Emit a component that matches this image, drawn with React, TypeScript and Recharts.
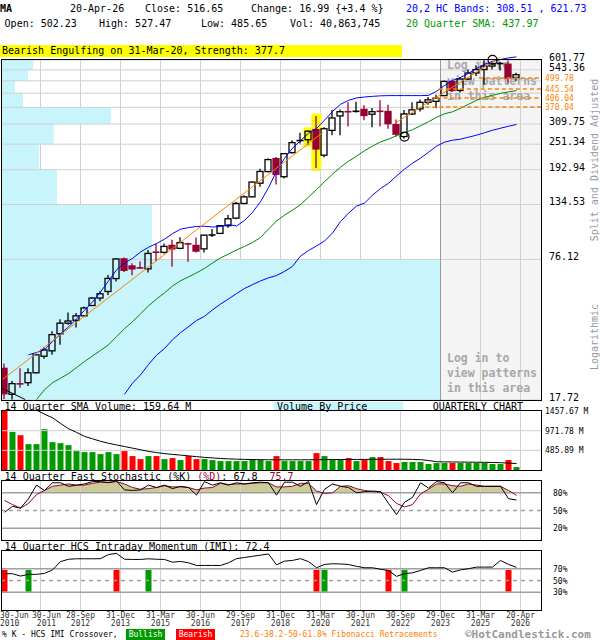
import React from 'react'
import {
  ComposedChart,
  XAxis,
  YAxis,
  Bar,
  Line,
  Area,
  Scatter,
  ReferenceLine,
  ReferenceArea,
  Cell,
} from 'recharts'

const FONT = "'DejaVu Sans Mono', 'Liberation Mono', monospace"

// quarterly candles 30-Jun-2010 .. 20-Apr-2026 (split & dividend adjusted)
const opens = [24.6, 18.8, 21.0, 21.2, 23.5, 27.9, 29.5, 35.2, 39.3, 40.5, 42.4, 47.2, 51.0, 54.6, 62.4, 76.5, 71.1, 70.4, 69.0, 82.2, 81.9, 88.0, 85.4, 89.6, 88.0, 84.9, 97.1, 99.7, 108, 116.8, 136, 145.6, 167.8, 189.2, 216.5, 179.4, 230.3, 259, 263.2, 292.6, 224.3, 290, 337, 353, 350, 360.5, 343, 355, 353, 308, 272, 344, 362.6, 388, 392, 416, 482, 439, 494, 526, 545, 565, 578, 576, 502.23]
const highs = [25.9, 21.6, 24.6, 24.6, 28.5, 30.6, 36.1, 40.9, 43.9, 43.7, 46.7, 51.5, 54.7, 64.8, 76.8, 77.6, 73.1, 74.4, 83.9, 89.5, 89.8, 93.3, 95.8, 90.5, 95.6, 98.2, 104.3, 108.2, 120.5, 138.5, 148.2, 170.9, 195, 216.5, 220.4, 229.5, 262, 283, 290, 337, 300, 358, 360, 388, 390, 376, 366, 396, 378, 325, 358, 388, 400, 410, 420, 487, 487, 505, 545, 570, 600, 595, 590, 598, 527.47]
const lows = [17.9, 17.8, 20.1, 20.5, 23.3, 27.2, 28.3, 31.4, 38.7, 37.6, 42.1, 47.0, 49.3, 52.7, 60.6, 66.8, 64.6, 68.9, 66.5, 74.9, 81.0, 70.6, 84.5, 74.3, 81.8, 81.8, 96.1, 99.5, 105.7, 115.5, 135, 145, 161.8, 188.1, 165.3, 176.3, 228, 253, 250, 196.4, 219.5, 276, 276, 302, 349, 322, 300, 302, 295, 272.5, 267, 340, 353, 378, 365, 414, 432, 430, 489, 510, 465, 545, 540, 470, 485.65]
const closes = [18.9, 21.0, 20.9, 23.5, 28.3, 29.8, 34.9, 39.3, 40.2, 42.4, 46.0, 51.0, 53.3, 62.5, 76.5, 68.0, 69.0, 69.0, 81.0, 81.8, 87.1, 84.9, 90.6, 89.2, 83.0, 97.9, 99.0, 108.0, 116, 136, 145.6, 169.7, 189.4, 214.3, 184.0, 227.9, 255.5, 263, 287.6, 239.3, 295, 330, 352, 351, 357, 338.5, 352, 352, 311, 279, 344, 358.8, 388, 398, 405, 482, 439, 494, 526, 545, 565, 580, 582, 499.66, 516.65]

// 20,2 HC bands and 20 quarter SMA
const upperBand = [null, null, null, 28.3, 29.0, 29.8, 32.5, 35.2, 37.8, 41.1, 44.9, 49.0, 54.3, 60.9, 68.3, 73.3, 76.9, 82.2, 86.3, 89.8, 93.9, 99.5, 104.1, 105.9, 107.1, 107.4, 106.5, 107.1, 109.3, 107.6, 114, 124, 138.5, 160, 190, 217, 241, 260.7, 281.6, 296, 322, 353, 380, 396, 406, 410, 412.8, 415, 416, 416, 416, 416, 416, 417, 435, 462, 487, 502, 523.6, 551, 575, 593, 605, 615, 621.73]
const lowerBand = [null, null, null, null, null, null, null, null, null, null, null, null, null, null, null, 18.8, 21.1, 23.0, 25.6, 28.2, 30.2, 33.1, 35.6, 37.9, 40.4, 42.2, 45.1, 47.9, 50.5, 53.4, 56.3, 58.6, 60.9, 62.9, 64.4, 67.2, 70.8, 78.8, 83.5, 87.5, 92.1, 100.1, 112.6, 123, 132.3, 136.5, 148.2, 158.7, 167.6, 180.8, 194, 206.6, 217.3, 231.3, 246.3, 256.7, 262, 264.8, 270.3, 276, 283, 290.6, 296.6, 302.8, 308.51]
const sma20 = [null, null, null, null, 17.8, 19.7, 21.2, 22.2, 23.3, 24.8, 26.4, 28.0, 29.6, 31.4, 34.2, 37.1, 39.9, 43.3, 47.0, 50.5, 53.8, 57.8, 61.0, 63.5, 66.2, 69.3, 73.4, 77.3, 80.5, 83.9, 87.1, 90.7, 95.5, 104.3, 113.3, 120.5, 126.9, 134.3, 145.2, 156.9, 170.5, 184.2, 198, 210.7, 221.9, 235, 246.3, 257.5, 264.8, 274.5, 283.1, 292.1, 304.4, 317.2, 332.3, 344.5, 351.7, 364.7, 380.1, 396.1, 408.6, 417, 425.8, 432.3, 437.97]

// volume (millions) and its 14 quarter SMA
const volumes = [1457, 942, 860, 639, 639, 1008, 688, 663, 614, 467, 442, 442, 393, 442, 393, 467, 344, 270, 344, 344, 270, 295, 246, 344, 270, 270, 246, 221, 221, 221, 221, 270, 246, 221, 344, 221, 221, 221, 221, 418, 344, 246, 246, 295, 221, 246, 319, 319, 221, 172, 197, 197, 197, 147, 172, 172, 172, 172, 172, 172, 172, 147, 147, 246, 73]
const volumeSma = [2100, 1950, 1800, 1640, 1480, 1380, 1290, 1150, 1020, 930, 830, 770, 710, 660, 620, 580, 540, 500, 460, 430, 405, 385, 368, 350, 330, 312, 298, 285, 275, 268, 262, 258, 255, 253, 252, 252, 252, 252, 253, 255, 257, 258, 259, 260, 261, 262, 263, 265, 266, 266, 266, 262, 255, 235, 205, 200, 198, 196, 194, 192, 190, 186, 180, 170, 159.64]

// 14 quarter fast stochastic
const stochK = [47, 57, 54, 70, 93, 84, 97, 97, 91, 93, 95, 99, 99, 97, 100, 85, 84, 85, 93, 89, 93, 87, 91, 89, 76, 99, 93, 97, 93, 97, 95, 97, 98, 97, 76, 98, 98, 91, 99, 60, 86, 95, 91, 89, 80, 82, 83, 82, 62, 43, 64, 72, 97, 88, 99, 97, 80, 97, 97, 91, 91, 91, 91, 70, 67.8]
const stochD = [67, 60, 54, 62, 77, 84, 91, 93, 95, 93, 93, 96, 98, 98, 99, 95, 89, 86, 87, 89, 92, 90, 90, 89, 85, 88, 89, 96, 94, 95, 95, 96, 97, 97, 90, 90, 91, 96, 96, 83, 79, 80, 91, 92, 87, 84, 82, 81, 75, 62, 56, 60, 78, 86, 95, 95, 92, 91, 95, 93, 91, 91, 91, 84, 75.7]

// 14 quarter HCS intraday momentum and %K / IMI crossovers
const imi = [61.5, 61.5, 57.5, 60.4, 60.4, 62, 68, 82, 86, 86.8, 86.8, 86.8, 87, 94, 96, 86, 85.7, 85.7, 86.8, 86, 85.7, 81, 82.3, 80, 75.5, 75.5, 75.5, 75.5, 80, 87, 89, 91, 93, 95, 76.6, 82.8, 84, 87, 82, 71.6, 77.2, 78.4, 78, 77.2, 74, 71.6, 71.6, 69, 67.1, 57, 61.5, 63, 67, 71.6, 71.6, 71.6, 64.3, 68, 70, 72.7, 72.7, 72.7, 84, 77.2, 72.4]
const crossIdx = [0, 3, 14, 18, 39, 40, 48, 50, 63]
const crossBullish = [false, true, false, true, false, true, false, true, false]
const crossBand = [31, 68]

// price grid, labels, fibonacci levels, volume-by-price
const gridLevels = [17.72, 76.12, 134.53, 192.94, 251.34, 309.75, 368.16, 426.56, 484.97, 543.37, 601.77]
const priceLabels = [17.72, 76.12, 134.53, 192.94, 251.34, 309.75, 543.36, 601.77]
const fibLevels = [370.04, 406.04, 445.54, 499.78]
const fibStart = [52.6, 54, 54.3, 59.3]
const vbpShare = [81.3, 27.8, 10.2, 6.9, 9.6, 20.2, 3.9, 2.4, 4.8, 5.8] // % of width, bottom band first
const trendLines = [
  [{ x: -0.2, y: 22 }, { x: 39.8, y: 284 }],
  [{ x: 48.8, y: 312 }, { x: 61.9, y: 618 }],
]
const patternMarks = [{ i: 38, lo: 244, hi: 299 }, { i: 39, lo: 190.6, hi: 345 }]
const circles = [{ i: 50, v: 272 }, { i: 61, v: 602 }]
const volTicks = [485.89, 971.78, 1457.67]

const gridX = [4.5, 9.5, 14.5, 19.5, 24.5, 29.5, 34.5, 39.5, 44.5, 49.5, 54.5, 59.5, 64.5]
const labelX = [0, ...gridX]
const xLabels = [
  ['30-Jun', '2010'], ['30-Jun', '2011'], ['28-Sep', '2012'], ['31-Dec', '2013'], ['31-Mar', '2015'],
  ['30-Jun', '2016'], ['29-Sep', '2017'], ['31-Dec', '2018'], ['31-Mar', '2020'], ['30-Jun', '2021'],
  ['30-Sep', '2022'], ['29-Dec', '2023'], ['31-Mar', '2025'], ['20-Apr', '2026'],
]

const X_DOMAIN: [number, number] = [-0.3125, 67.0625]
const PRICE_DOMAIN: [number, number] = [17.72, 667.5]
const GRID = '#d0d0d0'
const MAROON = '#990033'

// volume-by-price share of the plot width, expressed on the quarter axis
const shareToX = (s: number) => X_DOMAIN[0] + (s / 100) * (X_DOMAIN[1] - X_DOMAIN[0])

function Candle(props: any) {
  const { x, y, width, height, payload } = props
  if (!payload || !Number.isFinite(y) || !Number.isFinite(height)) return null
  const { o, h, l, c } = payload
  const lnH = Math.log(h)
  const span = lnH - Math.log(l)
  const at = (p: number) => y + (height * (lnH - Math.log(p))) / span
  const cx = x + width / 2
  const bear = c < o
  const color = bear ? MAROON : '#000'
  const top = at(Math.max(o, c))
  const bot = at(Math.min(o, c))
  if (bot - top < 2) {
    const mid = (top + bot) / 2
    return (
      <g>
        <line x1={cx} x2={cx} y1={y} y2={y + height} stroke={color} strokeWidth={1.3} />
        <line x1={cx - 3.5} x2={cx + 3.5} y1={mid} y2={mid} stroke={color} strokeWidth={1.6} />
      </g>
    )
  }
  return (
    <g>
      <line x1={cx} x2={cx} y1={y} y2={top} stroke={color} strokeWidth={1.3} />
      <line x1={cx} x2={cx} y1={bot} y2={y + height} stroke={color} strokeWidth={1.3} />
      <rect x={cx - 3} y={top} width={6} height={bot - top} fill={bear ? color : 'none'} stroke={color} strokeWidth={1.3} />
    </g>
  )
}

const PriceTick = (props: any) => {
  const { x, y, payload } = props
  const v = payload.value
  if (fibLevels.includes(v)) {
    return <text x={x - 4} y={y + 3} fontSize={8} fill="#ff8000" fontFamily={FONT}>{v.toFixed(2)}</text>
  }
  return <text x={x} y={y + 1} fontSize={10} fill="#000" fontFamily={FONT}>{v.toFixed(2)}</text>
}

const SmallTick = (suffix: string, digits: number) => (props: any) => {
  const { x, y, payload } = props
  return (
    <text x={x} y={y + 3} fontSize={8} fill="#000" fontFamily={FONT}>
      {payload.value.toFixed(digits) + suffix}
    </text>
  )
}

const XTick = (props: any) => {
  const { x, y, payload } = props
  const k = labelX.indexOf(payload.value)
  if (k < 0) return null
  const first = k === 0
  // the 2011 label is nudged right so it clears the 2010 one
  const tx = first ? x - 4.5 : k === 1 ? x + 6 : x
  return (
    <text x={tx} y={y} textAnchor={first ? 'start' : 'middle'} fontSize={8} fill="#333" fontFamily={FONT}>
      <tspan x={tx} dy={0}>{xLabels[k][0]}</tspan>
      <tspan x={tx} dy={8}>{xLabels[k][1]}</tspan>
    </text>
  )
}

const Txt = ({ x, y, size = 10, color = '#000', bold = false, children }: any) => (
  <div
    style={{
      position: 'absolute', left: x, top: y - 6, fontFamily: FONT, fontSize: size,
      lineHeight: '12px', color, fontWeight: bold ? 'bold' : 'normal', whiteSpace: 'pre',
    }}
  >
    {children}
  </div>
)

const Frame = ({ top, height }: any) => (
  <div
    style={{
      position: 'absolute', left: 1, top, width: 541, height, boxSizing: 'border-box',
      border: '1px solid #000', pointerEvents: 'none',
    }}
  />
)

const Layer = ({ top, children }: any) => (
  <div style={{ position: 'absolute', left: 0, top }}>{children}</div>
)

export default function App() {
  const rows = opens.map((o, i) => {
    const k = crossIdx.indexOf(i)
    return {
      i,
      o,
      h: highs[i],
      l: lows[i],
      c: closes[i],
      range: [lows[i], highs[i]],
      ub: upperBand[i],
      lb: lowerBand[i],
      sma: sma20[i],
      vol: volumes[i],
      volSma: volumeSma[i],
      k: stochK[i],
      d: stochD[i],
      zone: [80, Math.max(80, stochD[i])],
      imi: imi[i],
      cross: k >= 0 ? crossBand : null,
      bull: k >= 0 ? crossBullish[k] : false,
    }
  })

  const priceMarginBg = { top: 50, right: 59, bottom: 2, left: 2 }
  const priceMarginFg = { top: 50, right: 0, bottom: 2, left: 2 }

  return (
    <div style={{ position: 'absolute', left: 0, top: 0, width: 600, height: 640, background: '#fff', overflow: 'hidden' }}>
      {/* header */}
      <Txt x={0} y={9} bold>MA</Txt>
      <Txt x={70} y={9}>20-Apr-26</Txt>
      <Txt x={145} y={9}>Close: 516.65</Txt>
      <Txt x={251} y={9}>Change: 16.99 {'{+3.4 %}'}</Txt>
      <Txt x={406} y={9} color="#0000ff">20,2 HC Bands: 308.51 , 621.73</Txt>
      <Txt x={4.6} y={24}>Open: 502.23</Txt>
      <Txt x={99} y={24}>High: 527.47</Txt>
      <Txt x={201} y={24}>Low: 485.65</Txt>
      <Txt x={290} y={24}>Vol: 40,863,745</Txt>
      <Txt x={406} y={24} color="#009900">20 Quarter SMA: 437.97</Txt>
      <div style={{ position: 'absolute', left: 0, top: 45, width: 402, height: 12, background: '#ffff00' }} />
      <Txt x={2} y={51}>Bearish Engulfing on 31-Mar-20, Strength: 377.7</Txt>

      {/* price: background with shaded area and vertical grid */}
      <Layer top={0}>
        <ComposedChart width={600} height={402} data={rows} margin={priceMarginBg}>
          <XAxis type="number" dataKey="i" domain={X_DOMAIN} hide allowDataOverflow />
          <YAxis scale="log" domain={PRICE_DOMAIN} hide allowDataOverflow />
          <ReferenceArea x1={54.5} x2={X_DOMAIN[1]} y1={17.72} y2={601.77} fill="#f4f4f4" fillOpacity={1} stroke="none" />
          {gridX.map((x) => (
            <ReferenceLine key={x} segment={[{ x, y: 17.72 }, { x, y: 601.77 }]} stroke={GRID} strokeWidth={1} />
          ))}
        </ComposedChart>
      </Layer>

      {/* price: volume by price, horizontal grid, pattern marks */}
      <Layer top={0}>
        <ComposedChart width={600} height={402} data={rows} margin={priceMarginBg}>
          <XAxis type="number" dataKey="i" domain={X_DOMAIN} hide allowDataOverflow />
          <YAxis scale="log" domain={PRICE_DOMAIN} hide allowDataOverflow />
          {vbpShare.map((w, k) => (
            <ReferenceArea
              key={k}
              x1={X_DOMAIN[0]}
              x2={shareToX(w)}
              y1={gridLevels[k]}
              y2={gridLevels[k + 1]}
              fill="#c8f4fc"
              fillOpacity={1}
              stroke="none"
            />
          ))}
          {gridLevels.map((v) => (
            <ReferenceLine key={v} y={v} stroke={GRID} strokeWidth={1} />
          ))}
          <ReferenceLine segment={[{ x: 54.5, y: 17.72 }, { x: 54.5, y: 601.77 }]} stroke="#999" strokeWidth={1} />
          {patternMarks.map((p) => (
            <ReferenceArea
              key={p.i}
              x1={p.i - 0.65}
              x2={p.i + 0.6}
              y1={p.lo}
              y2={p.hi}
              fill="#ffff00"
              fillOpacity={1}
              stroke="none"
            />
          ))}
        </ComposedChart>
      </Layer>

      {/* login notes */}
      <div style={{ position: 'absolute', left: 447, top: 58, fontFamily: FONT, fontSize: 11.5, fontWeight: 'bold', color: '#a8a8a8', lineHeight: '15.5px', whiteSpace: 'pre' }}>
        {'Log in to\nview patterns\nin this area'}
      </div>
      <div style={{ position: 'absolute', left: 447, top: 351, fontFamily: FONT, fontSize: 11.5, fontWeight: 'bold', color: '#a8a8a8', lineHeight: '15px', whiteSpace: 'pre' }}>
        {'Log in to\nview patterns\nin this area'}
      </div>

      {/* price: candles and indicator lines */}
      <Layer top={0}>
        <ComposedChart width={600} height={402} data={rows} margin={priceMarginFg}>
          <XAxis type="number" dataKey="i" domain={X_DOMAIN} hide allowDataOverflow />
          <YAxis
            orientation="right"
            width={59}
            scale="log"
            domain={PRICE_DOMAIN}
            allowDataOverflow
            ticks={[...priceLabels, ...fibLevels]}
            interval={0}
            tickLine={false}
            axisLine={false}
            tickSize={6}
            tickMargin={2}
            tick={<PriceTick />}
          />
          <Bar dataKey="range" barSize={7} isAnimationActive={false} shape={(p: any) => <Candle {...p} />} />
          <Line dataKey="sma" stroke="#008800" strokeWidth={1} dot={false} isAnimationActive={false} />
          <Line dataKey="lb" stroke="#0000ff" strokeWidth={1} dot={false} isAnimationActive={false} />
          <Line dataKey="ub" stroke="#0000ff" strokeWidth={1} dot={false} isAnimationActive={false} />
          {trendLines.map((seg, k) => (
            <ReferenceLine key={k} segment={seg} stroke="#ff8000" strokeWidth={1} />
          ))}
          <ReferenceLine segment={[{ x: -0.3, y: 20.0 }, { x: 2.6, y: 17.8 }]} stroke="#000" strokeWidth={1} />
          {fibLevels.map((v, k) => (
            <ReferenceLine
              key={v}
              segment={[{ x: fibStart[k], y: v }, { x: X_DOMAIN[1], y: v }]}
              stroke="#ff8000"
              strokeWidth={1.5}
              strokeDasharray="4 3"
            />
          ))}
          <Scatter
            data={circles}
            dataKey="v"
            isAnimationActive={false}
            shape={(p: any) => <circle cx={p.cx} cy={p.cy} r={4.5} fill="none" stroke="#000" strokeWidth={1.2} />}
          />
        </ComposedChart>
      </Layer>
      <Frame top={59} height={342} />

      <div style={{ position: 'absolute', left: 594, top: 160, transform: 'translate(-50%, -50%) rotate(-90deg)', fontFamily: FONT, fontSize: 10, color: '#999', whiteSpace: 'nowrap' }}>
        Split and Dividend Adjusted
      </div>
      <div style={{ position: 'absolute', left: 594, top: 337, transform: 'translate(-50%, -50%) rotate(-90deg)', fontFamily: FONT, fontSize: 10, color: '#999', whiteSpace: 'nowrap' }}>
        Logarithmic
      </div>

      {/* volume */}
      <Txt x={4.6} y={407}>14 Quarter SMA Volume: 159.64 M</Txt>
      <div style={{ position: 'absolute', left: 274, top: 401.5, width: 129, height: 9.5, background: '#c8f4fc' }} />
      <Txt x={277} y={406.5}>Volume By Price</Txt>
      <Txt x={432.7} y={407}>QUARTERLY CHART</Txt>
      <Layer top={400}>
        <ComposedChart width={600} height={72} data={rows} margin={{ top: 11, right: 0, bottom: 2, left: 2 }}>
          <XAxis type="number" dataKey="i" domain={X_DOMAIN} hide allowDataOverflow />
          <YAxis
            orientation="right"
            width={59}
            domain={[0, 1457.67]}
            allowDataOverflow
            ticks={volTicks}
            interval={0}
            tickLine={false}
            axisLine={false}
            tickSize={2}
            tickMargin={2}
            tick={SmallTick(' M', 2)}
          />
          {gridX.map((x) => (
            <ReferenceLine key={x} x={x} stroke={GRID} strokeWidth={1} />
          ))}
          {volTicks.slice(0, 2).map((v) => (
            <ReferenceLine key={v} y={v} stroke={GRID} strokeWidth={1} />
          ))}
          <Bar dataKey="vol" barSize={6} isAnimationActive={false}>
            {rows.map((r) => (
              <Cell key={r.i} fill={r.c < r.o ? '#ff0000' : '#009900'} />
            ))}
          </Bar>
          <Line dataKey="volSma" stroke="#000" strokeWidth={1} dot={false} isAnimationActive={false} />
        </ComposedChart>
      </Layer>
      <Frame top={410} height={61} />

      {/* stochastic */}
      <Txt x={4.6} y={477}>
        14 Quarter Fast Stochastic (%K) <span style={{ color: MAROON }}>(%D)</span>: 67.8  <span style={{ color: MAROON }}>75.7</span>
      </Txt>
      <Layer top={470}>
        <ComposedChart width={600} height={72} data={rows} margin={{ top: 11, right: 0, bottom: 2, left: 2 }}>
          <XAxis type="number" dataKey="i" domain={X_DOMAIN} hide allowDataOverflow />
          <YAxis
            orientation="right"
            width={59}
            domain={[0, 100]}
            allowDataOverflow
            ticks={[20, 50, 80]}
            interval={0}
            tickLine={false}
            axisLine={false}
            tickSize={6}
            tickMargin={6}
            tick={SmallTick('%', 0)}
          />
          {gridX.map((x) => (
            <ReferenceLine key={x} x={x} stroke={GRID} strokeWidth={1} />
          ))}
          <Area dataKey="zone" stroke="none" fill="#cccc99" fillOpacity={1} isAnimationActive={false} />
          <ReferenceLine y={80} stroke="#a0a0a0" strokeWidth={1.5} />
          <ReferenceLine y={20} stroke="#a0a0a0" strokeWidth={1.5} />
          <ReferenceLine y={50} stroke="#a0a0a0" strokeWidth={1.5} strokeDasharray="4 4" />
          <Line dataKey="d" stroke={MAROON} strokeWidth={1} dot={false} isAnimationActive={false} />
          <Line dataKey="k" stroke="#000" strokeWidth={1} dot={false} isAnimationActive={false} />
        </ComposedChart>
      </Layer>
      <Frame top={480} height={61} />

      {/* intraday momentum */}
      <Txt x={4.6} y={547}>14 Quarter HCS Intraday Momentum (IMI): 72.4</Txt>
      <Layer top={540}>
        <ComposedChart width={600} height={100} data={rows} margin={{ top: 11, right: 0, bottom: 0, left: 2 }}>
          <XAxis
            type="number"
            dataKey="i"
            domain={X_DOMAIN}
            allowDataOverflow
            ticks={labelX}
            interval={0}
            axisLine={false}
            tickLine={false}
            height={30}
            tick={<XTick />}
          />
          <YAxis
            orientation="right"
            width={59}
            domain={[0, 100]}
            allowDataOverflow
            ticks={[30, 50, 70]}
            interval={0}
            tickLine={false}
            axisLine={false}
            tickSize={6}
            tickMargin={6}
            tick={SmallTick('%', 0)}
          />
          {gridX.map((x) => (
            <ReferenceLine key={x} x={x} stroke={GRID} strokeWidth={1} />
          ))}
          <ReferenceLine y={70} stroke="#a0a0a0" strokeWidth={1.5} />
          <ReferenceLine y={30} stroke="#a0a0a0" strokeWidth={1.5} />
          <ReferenceLine y={50} stroke="#a0a0a0" strokeWidth={1.5} strokeDasharray="4 4" />
          <Bar dataKey="cross" barSize={6} isAnimationActive={false}>
            {rows.map((r) => (
              <Cell key={r.i} fill={r.bull ? '#009900' : '#ff0000'} />
            ))}
          </Bar>
          <Line dataKey="imi" stroke="#000" strokeWidth={1} dot={false} isAnimationActive={false} />
        </ComposedChart>
      </Layer>
      <Frame top={550} height={61} />

      {/* legend */}
      <Txt x={2} y={635} size={8}>% K - HCS IMI Crossover,</Txt>
      <div style={{ position: 'absolute', left: 126, top: 629, width: 39, height: 11, background: '#009900', color: '#fff', fontFamily: FONT, fontSize: 8, lineHeight: '11px', textAlign: 'center' }}>Bullish</div>
      <div style={{ position: 'absolute', left: 176, top: 629, width: 39, height: 11, background: '#ff0000', color: '#fff', fontFamily: FONT, fontSize: 8, lineHeight: '11px', textAlign: 'center' }}>Bearish</div>
      <Txt x={240} y={634.5} size={8} color="#ff8000">23.6-38.2-50-61.8% Fibonacci Retracements</Txt>
      <div style={{ position: 'absolute', left: 465, top: 629, fontFamily: FONT, fontSize: 11, lineHeight: '11px', color: '#999', fontWeight: 'bold', whiteSpace: 'pre' }}>
        ©HotCandlestick.com
      </div>
    </div>
  )
}
